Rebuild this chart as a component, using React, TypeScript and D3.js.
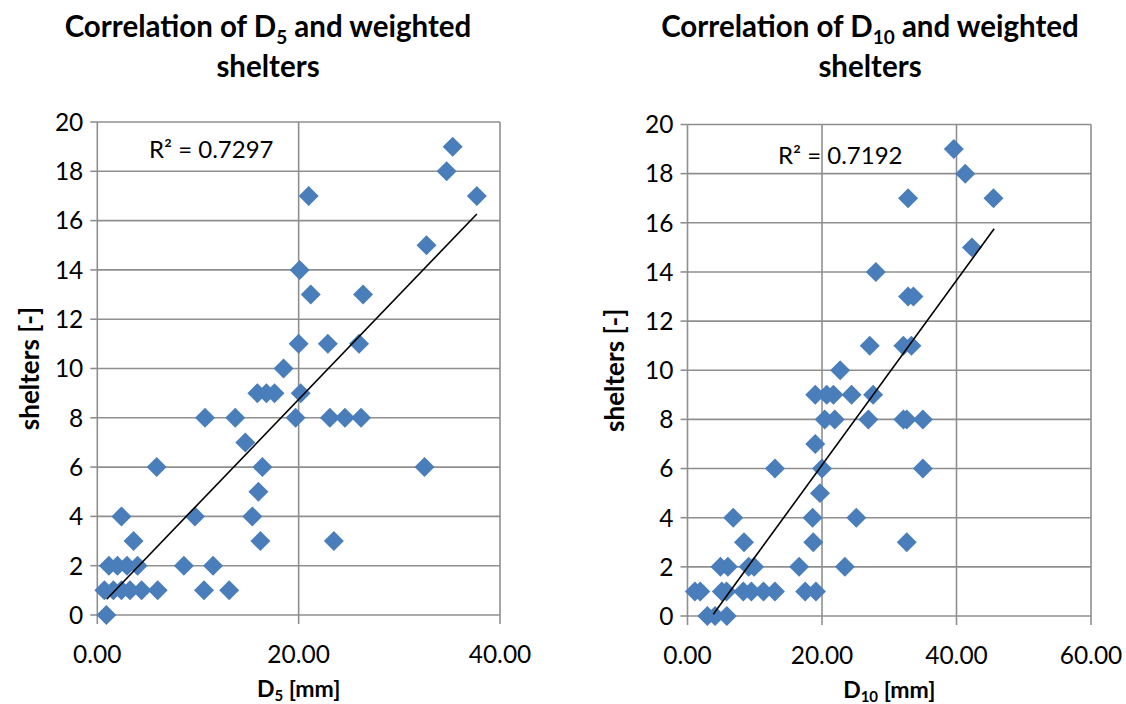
import React from "react";
import * as d3 from "d3";

// ---------- data ----------
const d5Values = [
  0.9,
  0.7, 1.6, 2.4, 3.25, 4.4, 6.0, 10.6, 13.1,
  1.15, 2.0, 2.95, 4.0, 8.6, 11.5,
  3.6, 16.2, 23.5,
  2.4, 9.7, 15.4,
  16.0,
  5.9, 16.4, 32.5,
  14.7,
  10.7, 13.7, 19.7, 23.1, 24.6, 26.2,
  15.9, 16.8, 17.6, 20.2,
  18.5,
  20.0, 22.9, 26.0,
  21.2, 26.4,
  20.1,
  32.7,
  21.0, 37.7,
  34.7,
  35.3,
];
const sheltersD5 = [
  0,
  1, 1, 1, 1, 1, 1, 1, 1,
  2, 2, 2, 2, 2, 2,
  3, 3, 3,
  4, 4, 4,
  5,
  6, 6, 6,
  7,
  8, 8, 8, 8, 8, 8,
  9, 9, 9, 9,
  10,
  11, 11, 11,
  13, 13,
  14,
  15,
  17, 17,
  18,
  19,
];

const d10Values = [
  2.95, 4.1, 5.85,
  1.1, 1.9, 5.1, 5.8, 8.3, 9.5, 11.3, 13.0, 17.5, 19.1,
  4.9, 6.0, 9.1, 9.9, 16.6, 23.4,
  8.4, 18.7, 32.6,
  6.8, 18.6, 25.1,
  19.7,
  13.0, 20.0, 35.0,
  19.0,
  20.4, 21.9, 26.9, 32.1, 32.6, 35.0,
  19.0, 20.7, 21.7, 24.4, 27.6,
  22.7,
  27.1, 32.1, 33.3,
  32.8, 33.6,
  28.0,
  42.3,
  32.8, 45.5,
  41.3,
  39.6,
];
const sheltersD10 = [
  0, 0, 0,
  1, 1, 1, 1, 1, 1, 1, 1, 1, 1,
  2, 2, 2, 2, 2, 2,
  3, 3, 3,
  4, 4, 4,
  5,
  6, 6, 6,
  7,
  8, 8, 8, 8, 8, 8,
  9, 9, 9, 9, 9,
  10,
  11, 11, 11,
  13, 13,
  14,
  15,
  17, 17,
  18,
  19,
];

// trendline endpoints as drawn in the reference
const trendD5X = [0.93, 37.7];
const trendD5Y = [0.64, 16.27];
const trendD10X = [3.84, 45.6];
const trendD10Y = [0.07, 15.76];

const yTicks = [0, 2, 4, 6, 8, 10, 12, 14, 16, 18, 20];
const xTicksD5 = [0, 20, 40];
const xTicksD10 = [0, 20, 40, 60];

const r2D5 = "0.7297";
const r2D10 = "0.7192";

const FONT = "Lato, 'Open Sans', sans-serif";
const GRID = "#8f8f8f";
const MARK = "#4a7ebb";

type PanelProps = {
  xs: number[];
  ys: number[];
  tx: number[];
  ty: number[];
  xTicks: number[];
  sub: string;
  r2: string;
  box: { x0: number; x1: number; y0: number; y1: number };
  titleX: number;
  r2Pos: { x: number; y: number };
  yTitleX: number;
};

function Panel(p: PanelProps) {
  const { box } = p;
  const xMax = p.xTicks[p.xTicks.length - 1];
  const x = d3.scaleLinear().domain([0, xMax]).range([box.x0, box.x1]);
  const y = d3.scaleLinear().domain([0, 20]).range([box.y1, box.y0]);
  const diamond = d3.symbol().type(d3.symbolSquare).size(200)();
  const fmt = d3.format(".2f");
  const line = d3
    .line<number>()
    .x((_, i) => x(p.tx[i]))
    .y((d) => y(d));
  const cx = (box.x0 + box.x1) / 2;
  const cy = (box.y0 + box.y1) / 2;
  return (
    <g>
      {/* title */}
      <text x={p.titleX} y={37} textAnchor="middle" fontFamily={FONT} fontWeight="bold" fontSize={29.5} fill="#000">
        Correlation of D
        <tspan fontSize={19} dy={7}>{p.sub}</tspan>
        <tspan dy={-7}> and weighted</tspan>
      </text>
      <text x={p.titleX} y={77} textAnchor="middle" fontFamily={FONT} fontWeight="bold" fontSize={29.5} fill="#000">
        shelters
      </text>
      {/* horizontal grid */}
      {yTicks.map((t) => (
        <line key={"h" + t} x1={box.x0} x2={box.x1} y1={y(t)} y2={y(t)} stroke={GRID} strokeWidth={1.6} />
      ))}
      {/* vertical grid */}
      {p.xTicks.map((t) => (
        <line key={"v" + t} x1={x(t)} x2={x(t)} y1={box.y0} y2={box.y1 + 9} stroke={GRID} strokeWidth={1.6} />
      ))}
      {/* y ticks */}
      {yTicks.map((t) => (
        <g key={"yt" + t}>
          <line x1={box.x0 - 7} x2={box.x0} y1={y(t)} y2={y(t)} stroke={GRID} strokeWidth={1.6} />
          <text x={box.x0 - 14} y={y(t)} dy="0.36em" textAnchor="end" fontFamily={FONT} fontSize={24.5} fill="#000">
            {t}
          </text>
        </g>
      ))}
      {/* x tick labels */}
      {p.xTicks.map((t) => (
        <text key={"xt" + t} x={x(t)} y={box.y1 + 48} textAnchor="middle" fontFamily={FONT} fontSize={24.5} fill="#000">
          {fmt(t)}
        </text>
      ))}
      {/* markers */}
      {p.xs.map((v, i) => (
        <path key={"m" + i} d={diamond!} transform={`translate(${x(v)},${y(p.ys[i])}) rotate(45)`} fill={MARK} />
      ))}
      {/* trendline */}
      <path d={line(p.ty)!} fill="none" stroke="#000" strokeWidth={1.6} />
      {/* R2 */}
      <text x={p.r2Pos.x} y={p.r2Pos.y} fontFamily={FONT} fontSize={24} fill="#000">
        R² = {p.r2}
      </text>
      {/* axis titles */}
      <text x={cx} y={box.y1 + 82} textAnchor="middle" fontFamily={FONT} fontWeight="bold" fontSize={23} fill="#000">
        D
        <tspan fontSize={15} dy={4}>{p.sub}</tspan>
        <tspan dy={-4}> [mm]</tspan>
      </text>
      <text
        transform={`translate(${p.yTitleX},${cy}) rotate(-90)`}
        textAnchor="middle"
        fontFamily={FONT}
        fontWeight="bold"
        fontSize={26}
        fill="#000"
      >
        shelters [-]
      </text>
    </g>
  );
}

export default function App() {
  return (
    <svg width={1126} height={704} style={{ position: "absolute", left: 0, top: 0, background: "#fff" }}>
      <rect width={1126} height={704} fill="#fff" />
      <Panel
        xs={d5Values}
        ys={sheltersD5}
        tx={trendD5X}
        ty={trendD5Y}
        xTicks={xTicksD5}
        sub="5"
        r2={r2D5}
        box={{ x0: 97.3, x1: 500, y0: 122, y1: 615 }}
        titleX={268}
        r2Pos={{ x: 149, y: 158 }}
        yTitleX={39}
      />
      <Panel
        xs={d10Values}
        ys={sheltersD10}
        tx={trendD10X}
        ty={trendD10Y}
        xTicks={xTicksD10}
        sub="10"
        r2={r2D10}
        box={{ x0: 687.5, x1: 1091, y0: 124.5, y1: 616 }}
        titleX={870}
        r2Pos={{ x: 778, y: 164 }}
        yTitleX={624}
      />
    </svg>
  );
}
